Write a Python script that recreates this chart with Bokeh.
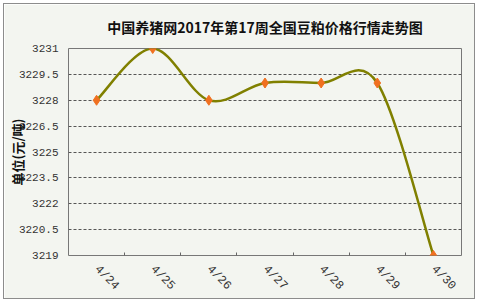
import math
from bokeh.plotting import figure
from bokeh.models import FixedTicker, ColumnDataSource
from bokeh.embed import file_html
from bokeh.resources import INLINE

title_text = "中国养猪网2017年第17周全国豆粕价格行情走势图"
dates = ["4/24", "4/25", "4/26", "4/27", "4/28", "4/29", "4/30"]
prices = [3228, 3231, 3228, 3229, 3229, 3229, 3219]
y_ticks = [3219, 3220.5, 3222, 3223.5, 3225, 3226.5, 3228, 3229.5, 3231]
y_label = "单位(元/吨)"

n = len(dates)
xs = [i + 0.5 for i in range(n)]
bounds = [float(i) for i in range(1, n)]

# smooth (Catmull-Rom style) segments through the data points
x0, y0, x1, y1, cx0, cy0, cx1, cy1 = [], [], [], [], [], [], [], []
for i in range(n - 1):
    a = max(i - 1, 0)
    d = min(i + 2, n - 1)
    x0.append(xs[i]); y0.append(prices[i])
    x1.append(xs[i + 1]); y1.append(prices[i + 1])
    cx0.append(xs[i] + (xs[i + 1] - xs[a]) / 6.0)
    cy0.append(prices[i] + (prices[i + 1] - prices[a]) / 6.0)
    cx1.append(xs[i + 1] - (xs[d] - xs[i]) / 6.0)
    cy1.append(prices[i + 1] - (prices[d] - prices[i]) / 6.0)
seg = ColumnDataSource(dict(x0=x0, y0=y0, x1=x1, y1=y1, cx0=cx0, cy0=cy0, cx1=cx1, cy1=cy1))
pts = ColumnDataSource(dict(x=xs, y=prices))

BG = "#f3f5f0"
p = figure(width=472, height=296, x_range=(0, n), y_range=(y_ticks[0], y_ticks[-1]),
           output_backend="svg", toolbar_location=None,
           min_border_left=63, min_border_right=15, min_border_top=44, min_border_bottom=45,
           background_fill_color=BG, border_fill_color=BG)
p.styles = {"border": "1px solid #8c8c8c", "margin": "3px"}

p.title.text = title_text
p.title.align = "center"
p.title.vertical_align = "top"
p.title.offset = -4
p.title.standoff = 20
p.title.text_font = "Noto Sans CJK SC"
p.title.text_font_size = "14px"
p.title.text_font_style = "bold"
p.title.text_color = "#111111"

p.outline_line_color = "#777777"
p.outline_line_width = 1

p.xgrid.visible = False
p.ygrid.ticker = FixedTicker(ticks=y_ticks[1:-1])
p.ygrid.grid_line_color = "#555555"
p.ygrid.grid_line_dash = "3 2"
p.ygrid.grid_line_width = 1

xa = p.xaxis[0]
xa.ticker = FixedTicker(ticks=xs, minor_ticks=bounds)
xa.major_label_overrides = {xs[i]: dates[i] for i in range(n)}
xa.major_label_orientation = -math.pi / 4
xa.major_label_standoff = 12
xa.major_label_text_font = "Liberation Mono"
xa.major_label_text_font_size = "12px"
xa.major_label_text_color = "#333333"
xa.axis_line_color = None
xa.major_tick_in = 0
xa.major_tick_out = 0
xa.minor_tick_in = 3
xa.minor_tick_out = 0
xa.minor_tick_line_color = "#666666"

ya = p.yaxis[0]
ya.ticker = FixedTicker(ticks=y_ticks)
ya.major_label_overrides = {t: f"{t:g}" for t in y_ticks}
ya.major_label_standoff = 10
ya.major_label_text_font = "Liberation Mono"
ya.major_label_text_font_size = "11px"
ya.major_label_text_color = "#333333"
ya.axis_line_color = None
ya.major_tick_in = 0
ya.major_tick_out = 0
ya.minor_tick_line_color = None
ya.axis_label = y_label
ya.axis_label_standoff = -11
ya.axis_label_text_font = "Noto Sans CJK SC"
ya.axis_label_text_font_size = "13px"
ya.axis_label_text_font_style = "bold"
ya.axis_label_text_color = "#111111"

p.bezier(x0="x0", y0="y0", x1="x1", y1="y1", cx0="cx0", cy0="cy0", cx1="cx1", cy1="cy1",
         source=seg, line_color="#808000", line_width=2.5)
p.scatter(x="x", y="y", source=pts, marker="diamond", size=10,
          fill_color="#f07020", line_color="#f07020")

open("out.html", "w").write(file_html(p, INLINE))
